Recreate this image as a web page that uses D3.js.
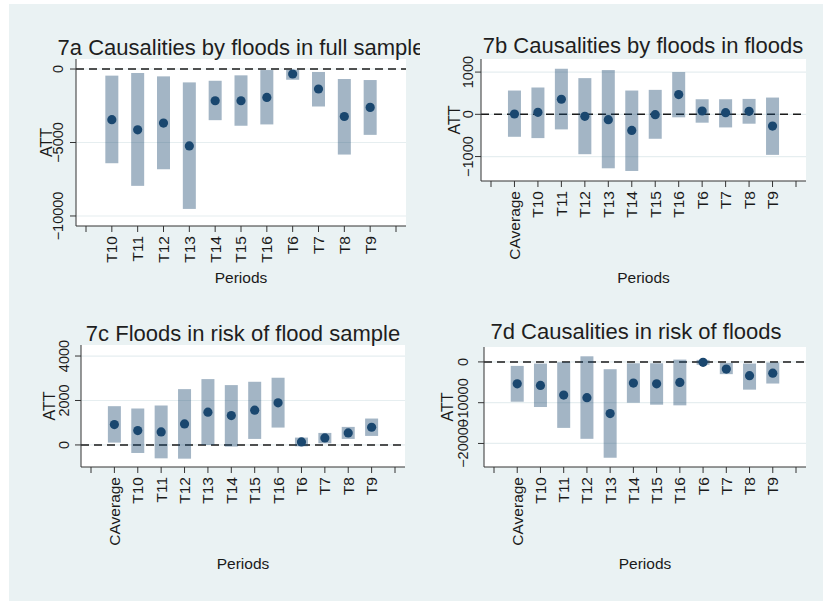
<!DOCTYPE html>
<html>
<head>
<meta charset="utf-8">
<script src="https://cdn.jsdelivr.net/npm/d3@7"></script>
<style>
  html, body { margin: 0; padding: 0; background: #ffffff; }
  svg { display: block; font-family: "Liberation Sans", Arial, sans-serif; }
</style>
</head>
<body>
<svg id="chart" width="823" height="601"></svg>
<script>
// ---------------- DATA ----------------
const catsA = ["T10","T11","T12","T13","T14","T15","T16","T6","T7","T8","T9"];
const catsB = ["CAverage","T10","T11","T12","T13","T14","T15","T16","T6","T7","T8","T9"];

// 7a Causalities by floods in full sample
const attA = [-3450, -4140, -3680, -5230, -2160, -2160, -1930, -340, -1360, -3230, -2610];
const loA  = [-6410, -7950, -6820, -9520, -3480, -3860, -3770, -730, -2550, -5820, -4480];
const hiA  = [-450, -270, -500, -910, -800, -430, -70, -50, -200, -680, -750];
const ticksA = [0, -5000, -10000];

// 7b Causalities by floods in floods
const attB = [8, 48, 357, -48, -127, -381, -8, 468, 79, 40, 71, -278];
const loB  = [-532, -563, -357, -944, -1278, -1341, -579, -71, -198, -310, -222, -960];
const hiB  = [563, 635, 1079, 857, 1048, 563, 579, 1000, 357, 357, 365, 397];
const ticksB = [1000, 0, -1000];

// 7c Floods in risk of flood sample
const attC = [917, 647, 586, 947, 1474, 1323, 1564, 1895, 135, 316, 541, 797];
const loC  = [105, -361, -602, -617, 0, -75, 271, 782, -60, 75, 271, 406];
const hiC  = [1744, 1639, 1774, 2511, 2962, 2692, 2842, 3023, 331, 541, 812, 1188];
const ticksC = [0, 2000, 4000];

// 7d Causalities in risk of floods
const attD = [-5370, -5770, -8130, -8780, -12680, -5200, -5370, -5040, -100, -1750, -3380, -2760];
const loD  = [-9760, -11060, -16180, -18860, -23500, -10000, -10490, -10650, -700, -3000, -6800, -5300];
const hiD  = [-980, -410, -100, 1380, -1790, -330, -330, 570, 500, -240, -400, -160];
const ticksD = [0, -10000, -20000];

const titles = [
  "7a Causalities by floods in full sample",
  "7b Causalities by floods in floods",
  "7c Floods in risk of flood sample",
  "7d Causalities in risk of floods"
];
const yLabel = "ATT";
const xLabel = "Periods";

// ---------------- LAYOUT ----------------
const panels = [
  { title: titles[0], cats: catsA, att: attA, lo: loA, hi: hiA, ticks: ticksA,
    domain: [-10682, 682], x0: 76, x1: 406, y0: 59, y1: 226,
    titleX: 241, titleY: 55, tickLabX: 63, attX: 52, periodsY: 283,
    clip: [9, 4, 411, 296] },
  { title: titles[1], cats: catsB, att: attB, lo: loB, hi: hiB, ticks: ticksB,
    domain: [-1579, 1310], x0: 481, x1: 806, y0: 59, y1: 181,
    titleX: 643, titleY: 53, tickLabX: 473, attX: 460, periodsY: 283,
    clip: [420, 4, 403, 296] },
  { title: titles[2], cats: catsB, att: attC, lo: loC, hi: hiC, ticks: ticksC,
    domain: [-992, 4496], x0: 81, x1: 405, y0: 345, y1: 467,
    titleX: 243, titleY: 341, tickLabX: 69, attX: 55, periodsY: 569,
    clip: [9, 300, 411, 301] },
  { title: titles[3], cats: catsB, att: attD, lo: loD, hi: hiD, ticks: ticksD,
    domain: [-25772, 3659], x0: 484, x1: 806, y0: 347, y1: 467,
    titleX: 636, titleY: 339, tickLabX: 468, attX: 453, periodsY: 569,
    clip: [420, 300, 403, 301] }
];

const BG = "#eaf2f3";
const GRID = "#e6eef0";
const NAVY = "#1a476f";
const TEXT = "#1a1a1a";

const svg = d3.select("#chart");
svg.append("rect").attr("x", 9).attr("y", 4).attr("width", 823 - 9).attr("height", 601 - 4).attr("fill", BG);

const defs = svg.append("defs");

panels.forEach((p, pi) => {
  const cid = "clip" + pi;
  defs.append("clipPath").attr("id", cid).append("rect")
    .attr("x", p.clip[0]).attr("y", p.clip[1]).attr("width", p.clip[2]).attr("height", p.clip[3]);
  const g = svg.append("g").attr("clip-path", `url(#${cid})`);

  const n = p.cats.length;
  const x = d3.scaleLinear().domain([0, n + 1]).range([p.x0 + 10, p.x1 - 10]);
  const y = d3.scaleLinear().domain(p.domain).range([p.y1, p.y0]);

  // plot region
  g.append("rect").attr("x", p.x0).attr("y", p.y0).attr("width", p.x1 - p.x0).attr("height", p.y1 - p.y0).attr("fill", "#ffffff");

  // gridlines
  g.selectAll(".grid").data(p.ticks).enter().append("line")
    .attr("x1", p.x0).attr("x2", p.x1)
    .attr("y1", d => y(d)).attr("y2", d => y(d))
    .attr("stroke", GRID).attr("stroke-width", 1.2);

  // zero reference line (dashed)
  g.append("line").attr("x1", p.x0).attr("x2", p.x1)
    .attr("y1", y(0)).attr("y2", y(0))
    .attr("stroke", "#1a1a1a").attr("stroke-width", 1.5).attr("stroke-dasharray", "8,5");

  // CI bars
  const idx = d3.range(n);
  g.selectAll(".bar").data(idx).enter().append("rect")
    .attr("x", i => x(i + 1) - 6.5).attr("width", 13)
    .attr("y", i => y(p.hi[i])).attr("height", i => y(p.lo[i]) - y(p.hi[i]))
    .attr("fill", NAVY).attr("fill-opacity", 0.4);

  // points
  g.selectAll(".dot").data(idx).enter().append("circle")
    .attr("cx", i => x(i + 1)).attr("cy", i => y(p.att[i])).attr("r", 4.6)
    .attr("fill", NAVY);

  // axes
  g.append("line").attr("x1", p.x0).attr("x2", p.x0).attr("y1", p.y0).attr("y2", p.y1)
    .attr("stroke", "#333").attr("stroke-width", 1);
  g.append("line").attr("x1", p.x0).attr("x2", p.x1).attr("y1", p.y1).attr("y2", p.y1)
    .attr("stroke", "#333").attr("stroke-width", 1);

  // y ticks
  g.selectAll(".yt").data(p.ticks).enter().append("line")
    .attr("x1", p.x0 - 6).attr("x2", p.x0)
    .attr("y1", d => y(d)).attr("y2", d => y(d))
    .attr("stroke", "#333").attr("stroke-width", 1);
  g.selectAll(".ytl").data(p.ticks).enter().append("text")
    .attr("transform", d => `translate(${p.tickLabX},${y(d)}) rotate(-90)`)
    .attr("text-anchor", "middle")
    .attr("font-size", 14.5).attr("fill", TEXT)
    .text(d => d3.format("d")(d));

  // x ticks
  g.selectAll(".xt").data(d3.range(n + 2)).enter().append("line")
    .attr("x1", d => x(d)).attr("x2", d => x(d))
    .attr("y1", p.y1).attr("y2", p.y1 + 6)
    .attr("stroke", "#333").attr("stroke-width", 1);
  g.selectAll(".xtl").data(idx).enter().append("text")
    .attr("transform", i => `translate(${x(i + 1)},${p.y1 + 10}) rotate(-90)`)
    .attr("text-anchor", "end").attr("dy", "0.35em")
    .attr("font-size", 15.5).attr("fill", TEXT)
    .text(i => p.cats[i]);

  // axis titles
  g.append("text")
    .attr("transform", `translate(${p.attX},${(p.y0 + p.y1) / 2}) rotate(-90)`)
    .attr("text-anchor", "middle").attr("font-size", 16).attr("fill", TEXT)
    .text(yLabel);
  g.append("text")
    .attr("x", (p.x0 + p.x1) / 2).attr("y", p.periodsY)
    .attr("text-anchor", "middle").attr("font-size", 15.5).attr("fill", TEXT)
    .text(xLabel);

  // title
  g.append("text").attr("x", p.titleX).attr("y", p.titleY)
    .attr("text-anchor", "middle").attr("font-size", 22).attr("fill", "#1e1e1e")
    .text(p.title);
});
</script>
</body>
</html>
